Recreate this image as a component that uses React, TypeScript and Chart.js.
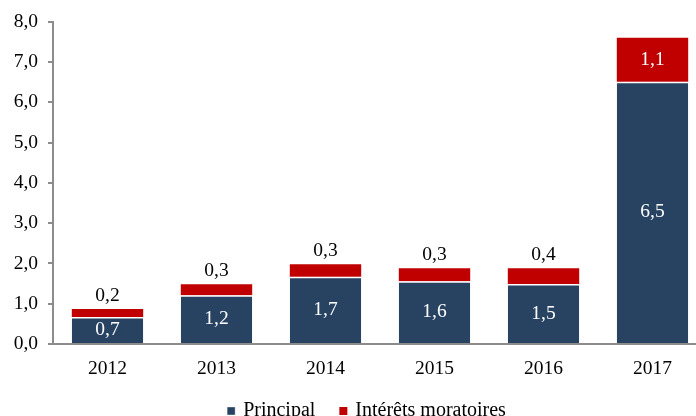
import React, { useEffect, useRef } from "react";
import { Chart, registerables } from "chart.js";

Chart.register(...registerables);

const years = ["2012", "2013", "2014", "2015", "2016", "2017"];
const principal = [0.67, 1.21, 1.67, 1.56, 1.49, 6.51];
const interets = [0.2, 0.27, 0.31, 0.32, 0.39, 1.09];
const yTicks = [0, 1, 2, 3, 4, 5, 6, 7, 8];

const NAVY = "#284262";
const RED = "#C00000";
const AXIS = "#8C8C8C";
const FONT = '"Liberation Serif", "Times New Roman", serif';

const fmt = (v: number) => v.toFixed(1).replace(".", ",");

const valueLabels = {
  id: "valueLabels",
  afterDatasetsDraw(chart: any) {
    const ctx = chart.ctx;
    ctx.save();
    ctx.font = `19.5px ${FONT}`;
    ctx.textAlign = "center";
    ctx.textBaseline = "middle";
    chart.data.datasets.forEach((ds: any, di: number) => {
      const meta = chart.getDatasetMeta(di);
      meta.data.forEach((bar: any, i: number) => {
        const v = ds.data[i] as number;
        const { x, y, base } = bar.getProps(["x", "y", "base"], true);
        const h = base - y;
        if (h > 24) {
          ctx.fillStyle = "#FFFFFF";
          ctx.fillText(fmt(v), x, (y + base) / 2);
        } else {
          ctx.fillStyle = "#000000";
          ctx.fillText(fmt(v), x, y - 13);
        }
      });
    });
    ctx.restore();
  },
};

const legendShift = {
  id: "legendShift",
  afterLayout(chart: any) {
    if (chart.legend) {
      chart.legend.left += 8;
      chart.legend.right += 8;
    }
  },
};

export default function App() {
  const ref = useRef<HTMLCanvasElement | null>(null);
  useEffect(() => {
    if (!ref.current) return;
    const chart = new Chart(ref.current, {
      type: "bar",
      data: {
        labels: years,
        datasets: [
          {
            label: "Principal",
            data: principal,
            backgroundColor: NAVY,
            borderColor: "#FFFFFF",
            borderWidth: { top: 1.5, left: 0, right: 0, bottom: 0 },
            borderSkipped: false,
            barPercentage: 0.655,
            categoryPercentage: 1,
          },
          {
            label: "Intérêts moratoires",
            data: interets,
            backgroundColor: RED,
            borderWidth: 0,
            barPercentage: 0.655,
            categoryPercentage: 1,
          },
        ],
      },
      options: {
        responsive: false,
        animation: false,
        layout: { padding: { left: 12, right: 3, top: 21, bottom: 0 } },
        scales: {
          x: {
            stacked: true,
            afterFit: (s: any) => {
              s.height = 31;
            },
            grid: { display: false, drawTicks: false },
            border: { display: true, color: AXIS, width: 2 },
            ticks: { color: "#000", font: { family: FONT, size: 19.5 }, padding: 13 },
          },
          y: {
            stacked: true,
            min: 0,
            max: 8,
            afterFit: (s: any) => {
              s.width = 41;
            },
            afterBuildTicks: (s: any) => {
              s.ticks = yTicks.map((v) => ({ value: v }));
            },
            grid: { display: true, drawOnChartArea: false, drawTicks: true, tickLength: 5, color: AXIS, lineWidth: 2 },
            border: { display: true, color: AXIS, width: 2 },
            ticks: {
              color: "#000",
              font: { family: FONT, size: 19.5 },
              padding: 10,
              callback: (v: any) => fmt(Number(v)),
            },
          },
        },
        plugins: {
          legend: {
            position: "bottom",
            labels: {
              usePointStyle: true,
              pointStyle: "rect",
              boxWidth: 4,
              boxHeight: 8,
              padding: 26,
              color: "#000",
              font: { family: FONT, size: 20 },
            },
          },
          tooltip: { enabled: false },
        },
      },
      plugins: [valueLabels, legendShift],
    });
    return () => chart.destroy();
  }, []);
  return (
    <div style={{ position: "fixed", left: 0, top: 0, width: 696, height: 416, overflow: "hidden", background: "#fff" }}>
      <canvas ref={ref} width={710} height={431} style={{ display: "block" }} />
    </div>
  );
}
